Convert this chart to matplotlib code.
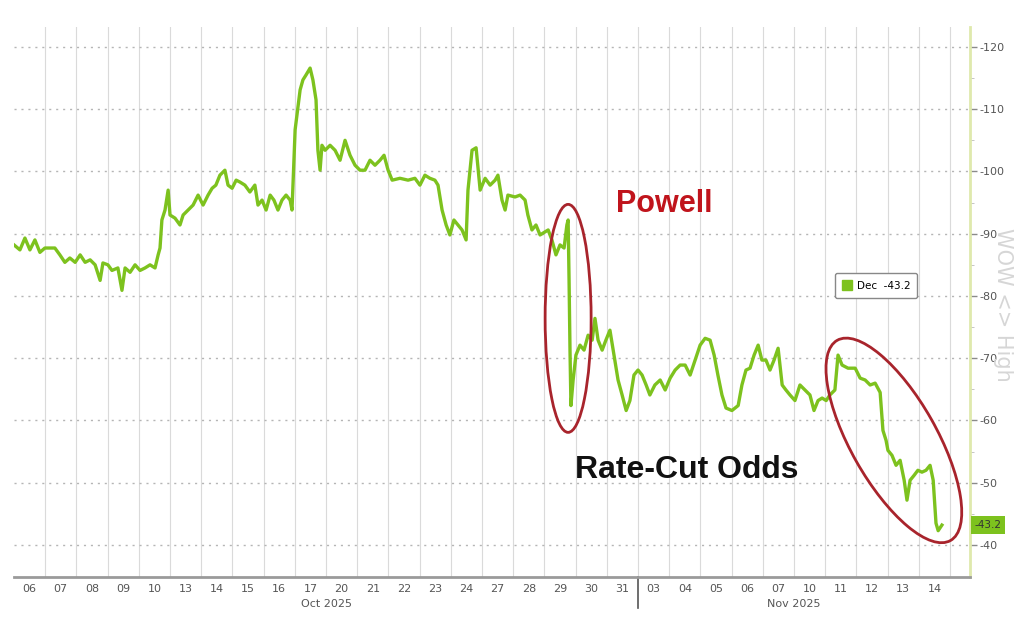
import matplotlib.pyplot as plt
import matplotlib.transforms as mtransforms
from matplotlib.patches import Ellipse, Patch
from matplotlib.lines import Line2D
import numpy as np

plt.rcParams['axes.unicode_minus'] = False

# trading days shown on the x axis
DAY_LABELS = ["06", "07", "08", "09", "10", "13", "14", "15", "16", "17",
              "20", "21", "22", "23", "24", "27", "28", "29", "30", "31",
              "03", "04", "05", "06", "07", "10", "11", "12", "13", "14"]
MONTHS = ["Oct 2025", "Nov 2025"]
MONTH_DAYS = [20, 10]

# position in trading days (0 = open of Oct 06) and implied Dec move (bps)
t = [0.00, 0.19, 0.35, 0.51, 0.67, 0.83, 0.99, 1.31, 1.47, 1.63,
     1.79, 1.96, 2.12, 2.28, 2.44, 2.60, 2.76, 2.85, 3.01, 3.14,
     3.33, 3.46, 3.56, 3.72, 3.88, 4.04, 4.20, 4.36, 4.52, 4.62,
     4.68, 4.74, 4.84, 4.94, 5.00, 5.16, 5.32, 5.42, 5.58, 5.74,
     5.90, 6.06, 6.22, 6.35, 6.47, 6.60, 6.76, 6.86, 6.99, 7.12,
     7.24, 7.40, 7.56, 7.72, 7.82, 7.95, 8.08, 8.21, 8.33, 8.46,
     8.59, 8.72, 8.85, 8.91, 9.01, 9.17, 9.26, 9.36, 9.49, 9.58,
     9.68, 9.74, 9.81, 9.87, 9.97, 10.13, 10.29, 10.45, 10.61, 10.77,
     10.93, 11.09, 11.25, 11.41, 11.57, 11.73, 11.86, 11.99, 12.12, 12.37,
     12.63, 12.85, 13.01, 13.17, 13.33, 13.49, 13.59, 13.72, 13.85, 13.97,
     14.10, 14.23, 14.36, 14.49, 14.55, 14.68, 14.81, 14.94, 15.10, 15.26,
     15.42, 15.51, 15.64, 15.74, 15.83, 16.06, 16.22, 16.38, 16.47, 16.60,
     16.73, 16.86, 17.02, 17.12, 17.24, 17.37, 17.50, 17.63, 17.72, 17.76,
     17.79, 17.82, 17.85, 17.92, 18.01, 18.14, 18.27, 18.40, 18.53, 18.62,
     18.72, 18.85, 18.97, 19.10, 19.23, 19.36, 19.49, 19.62, 19.74, 19.87,
     20.00, 20.13, 20.26, 20.38, 20.54, 20.71, 20.87, 21.03, 21.19, 21.35,
     21.51, 21.67, 21.83, 21.99, 22.15, 22.31, 22.44, 22.56, 22.69, 22.82,
     23.01, 23.21, 23.33, 23.46, 23.59, 23.72, 23.85, 23.97, 24.10, 24.23,
     24.36, 24.49, 24.62, 24.74, 24.87, 25.03, 25.19, 25.35, 25.51, 25.64,
     25.77, 25.90, 26.03, 26.15, 26.31, 26.41, 26.54, 26.73, 26.96, 27.12,
     27.28, 27.44, 27.60, 27.76, 27.85, 27.95, 28.01, 28.14, 28.27, 28.40,
     28.53, 28.62, 28.72, 28.85, 28.97, 29.10, 29.23, 29.36, 29.46, 29.55,
     29.62, 29.74]
dec = [-88.2, -87.4, -89.3, -87.4, -89.0, -87.0, -87.7, -87.7, -86.6, -85.4,
       -86.1, -85.4, -86.6, -85.4, -85.8, -85.0, -82.5, -85.3, -85.0, -84.1,
       -84.5, -80.9, -84.5, -83.8, -85.0, -84.1, -84.5, -85.0, -84.5, -86.6,
       -87.7, -92.2, -93.8, -97.0, -93.0, -92.5, -91.4, -93.0, -93.8, -94.6,
       -96.2, -94.6, -96.2, -97.3, -97.8, -99.4, -100.2, -97.8, -97.3, -98.6,
       -98.3, -97.8, -96.7, -97.8, -94.6, -95.4, -93.8, -96.2, -95.4, -93.8,
       -95.4, -96.2, -95.4, -93.8, -106.7, -113.1, -114.7, -115.5, -116.6, -114.7,
       -111.5, -103.4, -100.2, -104.2, -103.4, -104.2, -103.4, -101.8, -105.0, -102.6,
       -101.0, -100.2, -100.2, -101.8, -101.0, -101.8, -102.6, -100.2, -98.6, -98.9,
       -98.6, -98.9, -97.8, -99.4, -98.9, -98.6, -97.8, -93.8, -91.4, -89.8,
       -92.2, -91.4, -90.6, -89.0, -97.0, -103.4, -103.8, -97.0, -98.9, -97.8,
       -98.6, -99.4, -95.4, -93.8, -96.2, -95.9, -96.2, -95.4, -93.0, -90.6,
       -91.4, -89.8, -90.3, -90.6, -89.0, -86.6, -88.2, -87.7, -91.4, -92.2,
       -82.5, -71.3, -62.4, -66.5, -70.5, -72.1, -71.3, -73.7, -72.9, -76.4,
       -72.9, -71.3, -72.9, -74.5, -70.5, -66.5, -64.1, -61.6, -63.2, -67.3,
       -68.1, -67.3, -65.7, -64.1, -65.7, -66.5, -64.9, -66.8, -68.1, -68.9,
       -68.9, -67.3, -69.7, -72.1, -73.2, -72.9, -70.5, -67.3, -64.1, -62.0,
       -61.6, -62.4, -65.7, -68.1, -68.4, -70.5, -72.1, -69.7, -69.7, -68.1,
       -69.7, -71.6, -65.7, -64.9, -64.1, -63.2, -65.7, -64.9, -64.1, -61.6,
       -63.2, -63.6, -63.2, -64.1, -64.9, -70.5, -68.9, -68.4, -68.4, -66.8,
       -66.5, -65.7, -66.0, -64.5, -58.4, -56.8, -55.2, -54.4, -52.8, -53.6,
       -50.4, -47.2, -50.4, -51.2, -52.0, -51.7, -52.0, -52.8, -50.4, -43.5,
       -42.3, -43.2]

LINE = "#7dc21e"
RING = "#a8242c"


def main():
    fig = plt.figure(figsize=(10.24, 6.28), dpi=100)
    ax = fig.add_axes([14 / 1024, 51 / 628, 956 / 1024, 550 / 628])

    ax.plot(t, dec, color=LINE, lw=2.4, solid_joinstyle="round", zorder=3)

    n_days = len(DAY_LABELS)
    ax.set_xlim(0, 30.64)
    ax.set_ylim(-34.86, -123.2)  # inverted, like the terminal chart

    # x axis: labels centred in each day, grid on the day boundaries
    ax.set_xticks(np.arange(n_days) + 0.5)
    ax.set_xticklabels(DAY_LABELS)
    ax.set_xticks(np.arange(1, n_days + 1), minor=True)
    ax.tick_params(axis="x", which="both", length=0, labelsize=8, labelcolor="#555555", pad=5)
    ax.grid(which="minor", axis="x", color="#dadada", lw=0.8)

    # y axis on the right
    ax.yaxis.tick_right()
    ax.set_yticks(np.arange(-120, -39, 10))
    ax.set_yticks(np.arange(-115, -39, 10), minor=True)
    ax.tick_params(axis="y", which="major", direction="out", length=5, width=1,
                   color="#8a8a8a", labelsize=8, labelcolor="#555555", pad=2)
    ax.tick_params(axis="y", which="minor", direction="out", length=3, color="#bbbbbb")
    ax.grid(which="major", axis="y", color="#b5b5b5", lw=1.0, ls=(0, (1.5, 3.5)))

    for s in ("left", "top"):
        ax.spines[s].set_visible(False)
    ax.spines["right"].set_color("#dfe9ad")
    ax.spines["right"].set_linewidth(2)
    ax.spines["bottom"].set_color("#9a9a9a")
    ax.spines["bottom"].set_linewidth(2)

    # month labels and separator under the axis
    blend = mtransforms.blended_transform_factory(ax.transData, ax.transAxes)
    start = 0
    for name, nd in zip(MONTHS, MONTH_DAYS):
        ax.text(start + nd / 2, -0.049, name, transform=blend, ha="center", va="center",
                fontsize=8, color="#555555")
        start += nd
    ax.add_line(Line2D([MONTH_DAYS[0], MONTH_DAYS[0]], [0, -0.056], transform=blend,
                       color="#555555", lw=1.2, clip_on=False))

    # legend and last-value tag
    ax.legend(handles=[Patch(facecolor=LINE, edgecolor=LINE, label=f"Dec  {dec[-1]:.1f}")],
              loc="upper left", bbox_to_anchor=(0.853, 0.562), fontsize=7.5,
              handlelength=1.0, handleheight=1.0, handletextpad=0.4, borderpad=0.7,
              frameon=True, edgecolor="#888888", fancybox=True, framealpha=1)
    yblend = mtransforms.blended_transform_factory(ax.transAxes, ax.transData)
    ax.annotate(f"{dec[-1]:.1f}", xy=(1.0, dec[-1]), xycoords=yblend,
                xytext=(3, 0), textcoords="offset points", ha="left", va="center",
                fontsize=7.5, color="#333333", annotation_clip=False,
                bbox=dict(boxstyle="square,pad=0.35", fc=LINE, ec="none"))

    # watermark on the right
    fig.text(1003 / 1024, 1 - 305 / 628, "WOW <> High", rotation=-90, color="#d6d6d6",
             fontsize=15, ha="center", va="center", zorder=0)

    # annotations
    ax.text(20.83, -94.8, "Powell", color="#c0141c", fontsize=22, fontweight="bold",
            family="Liberation Sans", ha="center", va="center")
    ax.text(21.57, -52.0, "Rate-Cut Odds", color="#111111", fontsize=23, fontweight="bold",
            family="Liberation Sans", ha="center", va="center")

    for xc, yc, w, h, ang in [(17.76, -76.4, 0.46, 2.28, 0), (28.2, -56.8, 2.3, 0.86, -60.5)]:
        tr = fig.dpi_scale_trans + mtransforms.ScaledTranslation(xc, yc, ax.transData)
        ax.add_patch(Ellipse((0, 0), w, h, angle=ang, transform=tr, fill=False,
                             edgecolor=RING, lw=2, zorder=4, clip_on=False))

    fig.savefig("out.png", dpi=100)


if __name__ == "__main__":
    main()
